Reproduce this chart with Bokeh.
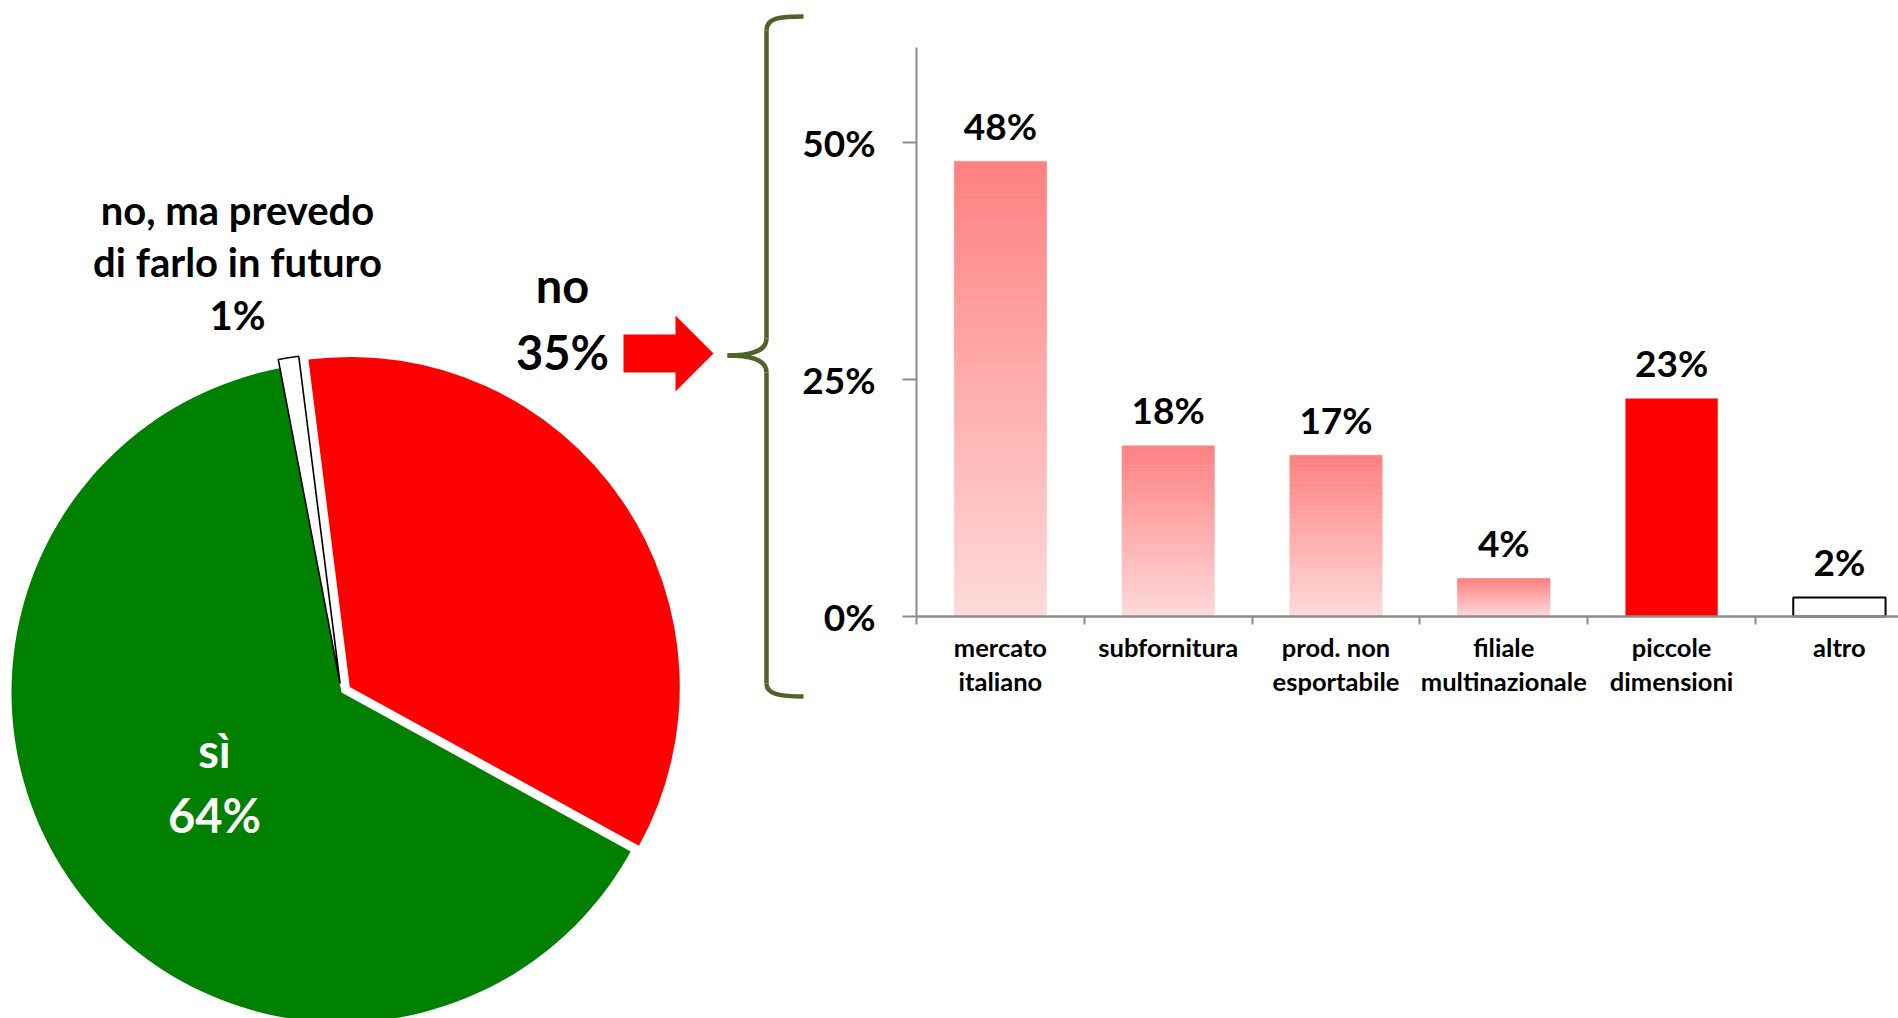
import numpy as np
from bokeh.plotting import figure
from bokeh.models import Range1d, FixedTicker, NumeralTickFormatter, LinearAxis
from bokeh.core.properties import value
from bokeh.embed import file_html
from bokeh.resources import INLINE

# ---------------- data ----------------
pie_labels = ["no\n35%", "sì\n64%", "no, ma prevedo\ndi farlo in futuro\n1%"]
pie_values = [35, 64, 1]
pie_colors = ["#FF0000", "#008000", "#FFFFFF"]

bar_categories = ["mercato\nitaliano", "subfornitura", "prod. non\nesportabile",
                  "filiale\nmultinazionale", "piccole\ndimensioni", "altro"]
bar_values = [0.48, 0.18, 0.17, 0.04, 0.23, 0.02]
bar_labels = ["48%", "18%", "17%", "4%", "23%", "2%"]
y_ticks = [0, 0.25, 0.5]

# ---------------- layout / styles ----------------
FONT = value("Lato")
W, H = 1898, 1018
AX_X = 916          # page x of bar y-axis
AX_Y = 616          # page y of bar x-axis
CAT_W = 167.8       # px per category
PX_PER_UNIT = 948.0 # px per 1.0 (100%)
OLIVE = "#4F6228"
GRAY = "#8C8C8C"


def P(px, py):
    """page pixel -> main data coordinate (y up)"""
    return px, H - py


p = figure(width=W, height=H, x_range=Range1d(0, W), y_range=Range1d(0, H),
           output_backend="svg", toolbar_location=None,
           x_axis_location=None, y_axis_location=None,
           min_border=0, outline_line_color=None)
p.xgrid.visible = False
p.ygrid.visible = False

# ---------------- pie ----------------
cx, cy = P(341, 692)
R = 330
start_deg = -7.2
explode = [10, 0, 9]
total = float(sum(pie_values))
theta = start_deg
for v, col, ex in zip(pie_values, pie_colors, explode):
    a0 = theta
    a1 = theta + v / total * 360.0
    mid = np.radians((a0 + a1) / 2)
    ox, oy = ex * np.sin(mid), ex * np.cos(mid)
    p.wedge(x=cx + ox, y=cy + oy, radius=R,
            start_angle=np.radians(90 - a1), end_angle=np.radians(90 - a0),
            fill_color=col,
            line_color="black" if col == "#FFFFFF" else None, line_width=1.6)
    theta = a1

lx, ly = P(562, 318)
p.text(x=[lx], y=[ly], text=[pie_labels[0]], text_font=FONT, text_font_style="bold",
       text_font_size="47px", text_align="center", text_baseline="middle",
       text_line_height=1.18, text_color="black")
sx, sy = P(214, 782)
p.text(x=[sx], y=[sy], text=[pie_labels[1]], text_font=FONT, text_font_style="bold",
       text_font_size="47px", text_align="center", text_baseline="middle",
       text_line_height=1.15, text_color="white")
nx, ny = P(237, 262)
p.text(x=[nx], y=[ny], text=[pie_labels[2]], text_font=FONT, text_font_style="bold",
       text_font_size="40px", text_align="center", text_baseline="middle",
       text_line_height=1.085, text_color="black")

# block arrow
arrow_pts = [(623, 334), (675, 334), (675, 315), (713, 353), (675, 391), (675, 372), (623, 372)]
p.patch([P(*q)[0] for q in arrow_pts], [P(*q)[1] for q in arrow_pts],
        fill_color="#FF0000", line_color=None)

# curly brace
def bez(p0, c0, c1, p1):
    a, b, c, d = P(*p0), P(*c0), P(*c1), P(*p1)
    p.bezier(x0=a[0], y0=a[1], x1=d[0], y1=d[1], cx0=b[0], cy0=b[1], cx1=c[0], cy1=c[1],
             line_color=OLIVE, line_width=4.5)

def seg(p0, p1):
    a, b = P(*p0), P(*p1)
    p.segment(x0=a[0], y0=a[1], x1=b[0], y1=b[1], line_color=OLIVE, line_width=4.5)

bez((803, 16), (780, 16), (766, 17), (766, 30))
seg((766, 30), (766, 338))
bez((766, 338), (766, 352), (748, 355), (727, 355))
bez((727, 355), (748, 355), (766, 358), (766, 372))
seg((766, 372), (766, 683))
bez((766, 683), (766, 694), (780, 696), (803, 696))

# ---------------- bar chart (extra ranges) ----------------
x_end = (W - AX_X) / CAT_W
p.extra_x_ranges = {"bx": Range1d(-AX_X / CAT_W, x_end)}
p.extra_y_ranges = {"by": Range1d(-(H - AX_Y) / PX_PER_UNIT, AX_Y / PX_PER_UNIT)}
RN = dict(x_range_name="bx", y_range_name="by")

n = len(bar_categories)
centers = [i + 0.5 for i in range(n)]
half = 0.275
top_rgb = np.array([255, 128, 128])
bot_rgb = np.array([255, 218, 218])
gradient_idx = [0, 1, 2, 3]
NSEG = 60
for i in gradient_idx:
    v = bar_values[i]
    k = np.arange(NSEG)
    b = v * k / NSEG
    t = v * (k + 1) / NSEG
    f = (k + 0.5) / NSEG
    cols = ["#%02x%02x%02x" % tuple(np.round(bot_rgb + (top_rgb - bot_rgb) * fr).astype(int)) for fr in f]
    p.quad(left=centers[i] - half, right=centers[i] + half, bottom=b, top=t,
           fill_color=cols, line_color=cols, line_width=0.6, **RN)

p.vbar(x=centers[4], top=bar_values[4], width=2 * half, fill_color="#FF0000",
       line_color=None, **RN)
p.vbar(x=centers[5], top=bar_values[5], width=2 * half, fill_color="white",
       line_color="black", line_width=2, **RN)

p.text(x=centers, y=bar_values, text=bar_labels, text_font=FONT, text_font_style="bold",
       text_font_size="37px", text_align="center", text_baseline="middle",
       y_offset=-36, text_color="black", **RN)

# y axis
ya = LinearAxis(fixed_location=0, bounds=(0, 0.6), **RN)
ya.ticker = FixedTicker(ticks=y_ticks, minor_ticks=[])
ya.formatter = NumeralTickFormatter(format="0%")
ya.axis_line_color = GRAY
ya.axis_line_width = 2
ya.major_tick_line_color = GRAY
ya.major_tick_line_width = 2
ya.major_tick_out = 14
ya.major_tick_in = 0
ya.minor_tick_line_color = None
ya.major_label_text_font = "Lato"
ya.major_label_text_font_style = "bold"
ya.major_label_text_font_size = "37px"
ya.major_label_text_color = "black"
ya.major_label_standoff = 27
p.add_layout(ya, "left")

# x axis
xa = LinearAxis(fixed_location=0, bounds=(0, x_end), **RN)
xa.ticker = FixedTicker(ticks=centers, minor_ticks=list(range(n)))
xa.major_label_overrides = {c: lab for c, lab in zip(centers, bar_categories)}
xa.axis_line_color = GRAY
xa.axis_line_width = 2.5
xa.major_tick_line_color = None
xa.major_tick_out = 0
xa.major_tick_in = 0
xa.minor_tick_line_color = GRAY
xa.minor_tick_line_width = 2
xa.minor_tick_out = 8
xa.minor_tick_in = 0
xa.major_label_text_font = "Lato"
xa.major_label_text_font_style = "bold"
xa.major_label_text_font_size = "25.5px"
xa.major_label_text_color = "black"
xa.major_label_text_line_height = 1.14
xa.major_label_standoff = 7
p.add_layout(xa, "below")

open("out.html", "w").write(file_html(p, INLINE))
